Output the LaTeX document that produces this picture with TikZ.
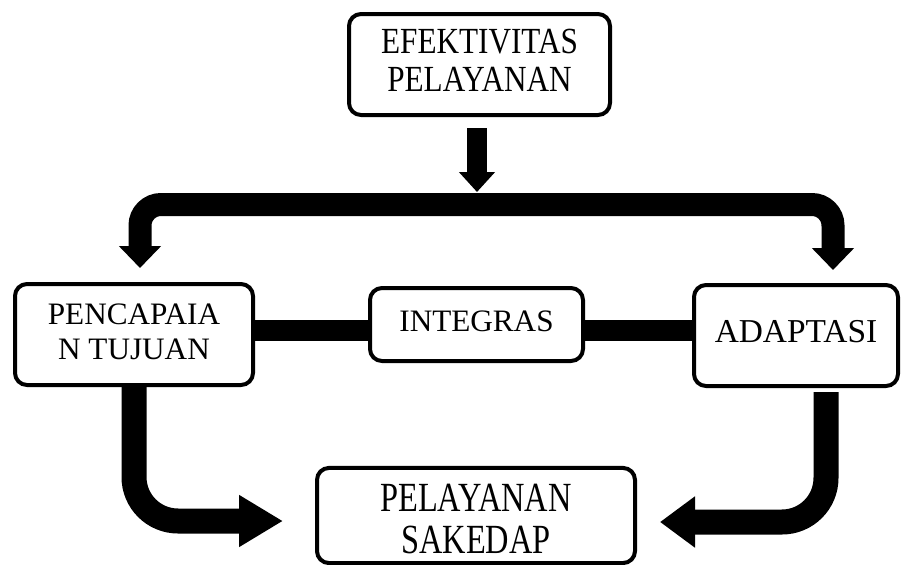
\documentclass[tikz,border=0pt]{standalone}
\usepackage{fontspec}
\setmainfont{Liberation Serif}
\usetikzlibrary{arrows.meta}
\tikzset{
	box/.style={draw, line width=2pt, rounded corners=6pt, inner sep=0pt, align=center, font=\fontsize{15.6}{17.5}\selectfont},
	link/.style={draw, line width=10.5pt},
	smallarrow/.style={draw, line width=10pt, -{Triangle[width=17.5pt,length=10pt]}},
	flow/.style={draw, line width=11.5pt, rounded corners=10.5pt, -{Triangle[width=20.5pt,length=11pt]}},
	outflow/.style={draw, line width=12.5pt, rounded corners=22pt, -{Triangle[width=24.5pt,length=#1]}},
}
\newcommand{\boxtext}[2][1]{\scalebox{1}[#1]{\begin{tabular}{@{}c@{}}#2\end{tabular}}}
\begin{document}
\begin{tikzpicture}[x=0.5pt, y=-0.5pt]
	\useasboundingbox (0,0) rectangle (902,564);
	\node (EFF) [box, minimum width=130.5pt, minimum height=50.5pt, font=\fontsize{15.6}{16.1}\selectfont] at (479.5,64.5) {\boxtext[1.18]{EFEKTIVITAS\\PELAYANAN}};
	\node (PEN) [box, minimum width=119pt, minimum height=50.5pt] at (134,334.5) {\boxtext{PENCAPAIA\\N TUJUAN}};
	\node (INT) [box, minimum width=106.5pt, minimum height=36.5pt] at (476.5,324.5) {\boxtext{INTEGRAS}};
	\node (ADA) [box, minimum width=102pt, minimum height=50.5pt, font=\fontsize{16.7}{18}\selectfont] at (796,335.5) {\boxtext{ADAPTASI}};
	\node (PEL) [box, minimum width=159pt, minimum height=46.5pt, font=\fontsize{16.2}{12.4}\selectfont] at (476,515.5) {\boxtext[1.28]{\rule{0pt}{17pt}PELAYANAN\\[2pt]SAKEDAP}};
	\coordinate (SPLIT) at (477,204.5);
	\coordinate (MID) at (0,330);
	
	\path [smallarrow, shorten <=5.5pt, shorten >=6.25pt] (EFF.south -| SPLIT) -- (SPLIT);
	\path [flow, shorten >=7pt] (SPLIT) -| ([xshift=3pt]PEN.north);
	\path [flow, shorten >=6.5pt] (SPLIT) -| ([xshift=18.5pt]ADA.north);
	\path [link] (PEN.east |- MID) -- (INT.west |- MID);
	\path [link] (INT.east |- MID) -- (ADA.west |- MID);
	\path [outflow=22pt, shorten >=16pt] (PEN.south) |- ([yshift=-2.75pt]PEL.west);
	\path [outflow=17.5pt, shorten <=2pt, shorten >=11.5pt] ([xshift=15pt]ADA.south) |- ([yshift=-3.25pt]PEL.east);
\end{tikzpicture}
\end{document}
